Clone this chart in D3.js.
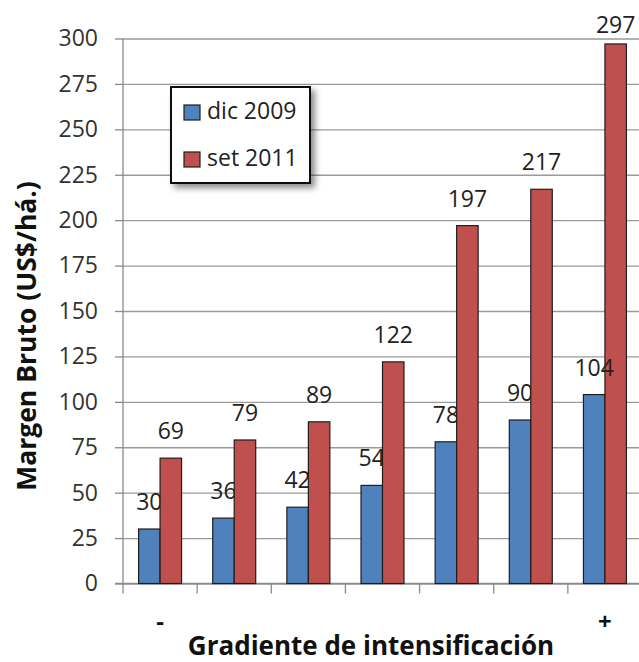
<!DOCTYPE html>
<html>
<head>
<meta charset="utf-8">
<script src="https://cdn.jsdelivr.net/npm/d3@7"></script>
<style>
  body { margin: 0; background: #fff; }
  svg { display: block; font-family: "Open Sans", sans-serif; }
</style>
</head>
<body>
<svg id="chart" width="639" height="662"></svg>
<script>
// Data
const categories = ['-', '', '', '', '', '', '+'];
const seriesNames = ['dic 2009', 'set 2011'];
const dic2009 = [30, 36, 42, 54, 78, 90, 104];
const set2011 = [69, 79, 89, 122, 197, 217, 297];
const yTicks = [0, 25, 50, 75, 100, 125, 150, 175, 200, 225, 250, 275, 300];
// blue labels that sit above the red bars instead of behind them
const blueLabelsOnTop = [6];

const colors = {'dic 2009': '#4F81BD', 'set 2011': '#C0504D'};

// Layout
const width = 639, height = 662;
const plot = {left: 123, right: 642, top: 38.5, bottom: 583.5};

const svg = d3.select('#chart');

const x = d3.scaleBand()
    .domain(d3.range(categories.length))
    .range([plot.left, plot.right])
    .padding(0);

const xs = d3.scaleBand()
    .domain(seriesNames)
    .range([0, x.bandwidth()])
    .paddingInner(0)
    .paddingOuter(0.725);

const y = d3.scaleLinear().domain([0, 300]).range([plot.bottom, plot.top]);

// Gridlines + y axis
svg.append('g').attr('transform', `translate(${plot.left},0)`)
    .call(d3.axisLeft(y).tickValues(yTicks).tickSize(-(plot.right - plot.left)).tickFormat(''))
    .call(g => g.select('.domain').remove())
    .call(g => g.selectAll('line').attr('stroke', '#9a9a9a').attr('stroke-width', 1.3));

svg.append('g').attr('transform', `translate(${plot.left},0)`)
    .call(d3.axisLeft(y).tickValues(yTicks).tickSize(8).tickPadding(17))
    .call(g => g.select('.domain').attr('stroke', '#8a8a8a').attr('stroke-width', 1.3)
        .attr('d', `M0,${plot.top}V${plot.bottom}`))
    .call(g => g.selectAll('line').attr('stroke', '#8a8a8a').attr('stroke-width', 1.3))
    .call(g => g.selectAll('text')
        .attr('fill', '#333')
        .style('font-size', '23px')
        .style('font-family', '"Open Sans", sans-serif'));

// x axis
svg.append('g').attr('transform', `translate(0,${plot.bottom})`)
    .call(d3.axisBottom(x).tickSize(0).tickFormat(i => categories[i]).tickPadding(29))
    .call(g => g.select('.domain').attr('stroke', '#8a8a8a').attr('stroke-width', 1.3)
        .attr('d', `M${plot.left - 8},0H${plot.right}`))
    .call(g => g.selectAll('text')
        .attr('fill', '#111')
        .style('font-size', '24px')
        .style('font-weight', 'bold')
        .style('font-family', '"Open Sans", sans-serif'));

// x tick marks at category boundaries
svg.append('g').selectAll('line')
    .data(d3.range(categories.length))
    .join('line')
    .attr('x1', i => x(i)).attr('x2', i => x(i))
    .attr('y1', plot.bottom).attr('y2', plot.bottom + 10)
    .attr('stroke', '#8a8a8a').attr('stroke-width', 1.3);

// Bars + labels, blue first so red bars cover overlapping labels
const series = [
    {name: 'dic 2009', values: dic2009},
    {name: 'set 2011', values: set2011}
];

const labelX = (s, d) => x(d.i) + xs(s.name) + xs.bandwidth() / 2;
const labelY = d => Math.max(y(d.v) - 19, 33);

for (const s of series) {
    const data = s.values.map((v, i) => ({i, v}));
    const g = svg.append('g');
    g.selectAll('rect')
        .data(data)
        .join('rect')
        .attr('x', d => x(d.i) + xs(s.name))
        .attr('y', d => y(d.v))
        .attr('width', xs.bandwidth())
        .attr('height', d => y(0) - y(d.v))
        .attr('fill', colors[s.name])
        .attr('stroke', '#1e1e1e')
        .attr('stroke-width', 1.2);
    g.selectAll('text')
        .data(data.filter(d => s.name !== 'dic 2009' || !blueLabelsOnTop.includes(d.i)))
        .join('text')
        .attr('x', d => labelX(s, d))
        .attr('y', labelY)
        .attr('text-anchor', 'middle')
        .attr('fill', '#222')
        .style('font-size', '23px')
        .text(d => d.v);
}

svg.append('g').selectAll('text')
    .data(blueLabelsOnTop.map(i => ({i, v: dic2009[i]})))
    .join('text')
    .attr('x', d => labelX(series[0], d))
    .attr('y', labelY)
    .attr('text-anchor', 'middle')
    .attr('fill', '#222')
    .style('font-size', '23px')
    .text(d => d.v);

// Legend
const legend = svg.append('g').attr('transform', 'translate(171,87)');
const lw = 139, lh = 96;
const defs = svg.append('defs');
const f = defs.append('filter').attr('id', 'shadow').attr('x', '-20%').attr('y', '-20%').attr('width', '150%').attr('height', '150%');
f.append('feDropShadow').attr('dx', 4).attr('dy', 4).attr('stdDeviation', 3).attr('flood-color', '#000').attr('flood-opacity', 0.45);

legend.append('rect')
    .attr('width', lw).attr('height', lh)
    .attr('fill', '#fff')
    .attr('stroke', '#111')
    .attr('stroke-width', 2)
    .attr('filter', 'url(#shadow)');

const li = legend.selectAll('g.item')
    .data(seriesNames)
    .join('g')
    .attr('class', 'item')
    .attr('transform', (d, i) => `translate(13,${18 + i * 47})`);
li.append('rect')
    .attr('width', 16).attr('height', 15)
    .attr('fill', d => colors[d])
    .attr('stroke', '#1e1e1e')
    .attr('stroke-width', 1.2);
li.append('text')
    .attr('x', 23).attr('y', 14)
    .attr('fill', '#222')
    .style('font-size', '23px')
    .text(d => d);

// Axis titles
svg.append('text')
    .attr('transform', 'translate(36,336) rotate(-90)')
    .attr('text-anchor', 'middle')
    .attr('fill', '#111')
    .style('font-size', '26.5px')
    .style('font-weight', 'bold')
    .text('Margen Bruto (US$/há.)');

svg.append('text')
    .attr('x', 371)
    .attr('y', 655)
    .attr('text-anchor', 'middle')
    .attr('fill', '#111')
    .style('font-size', '26px')
    .style('font-weight', 'bold')
    .text('Gradiente de intensificación');
</script>
</body>
</html>
